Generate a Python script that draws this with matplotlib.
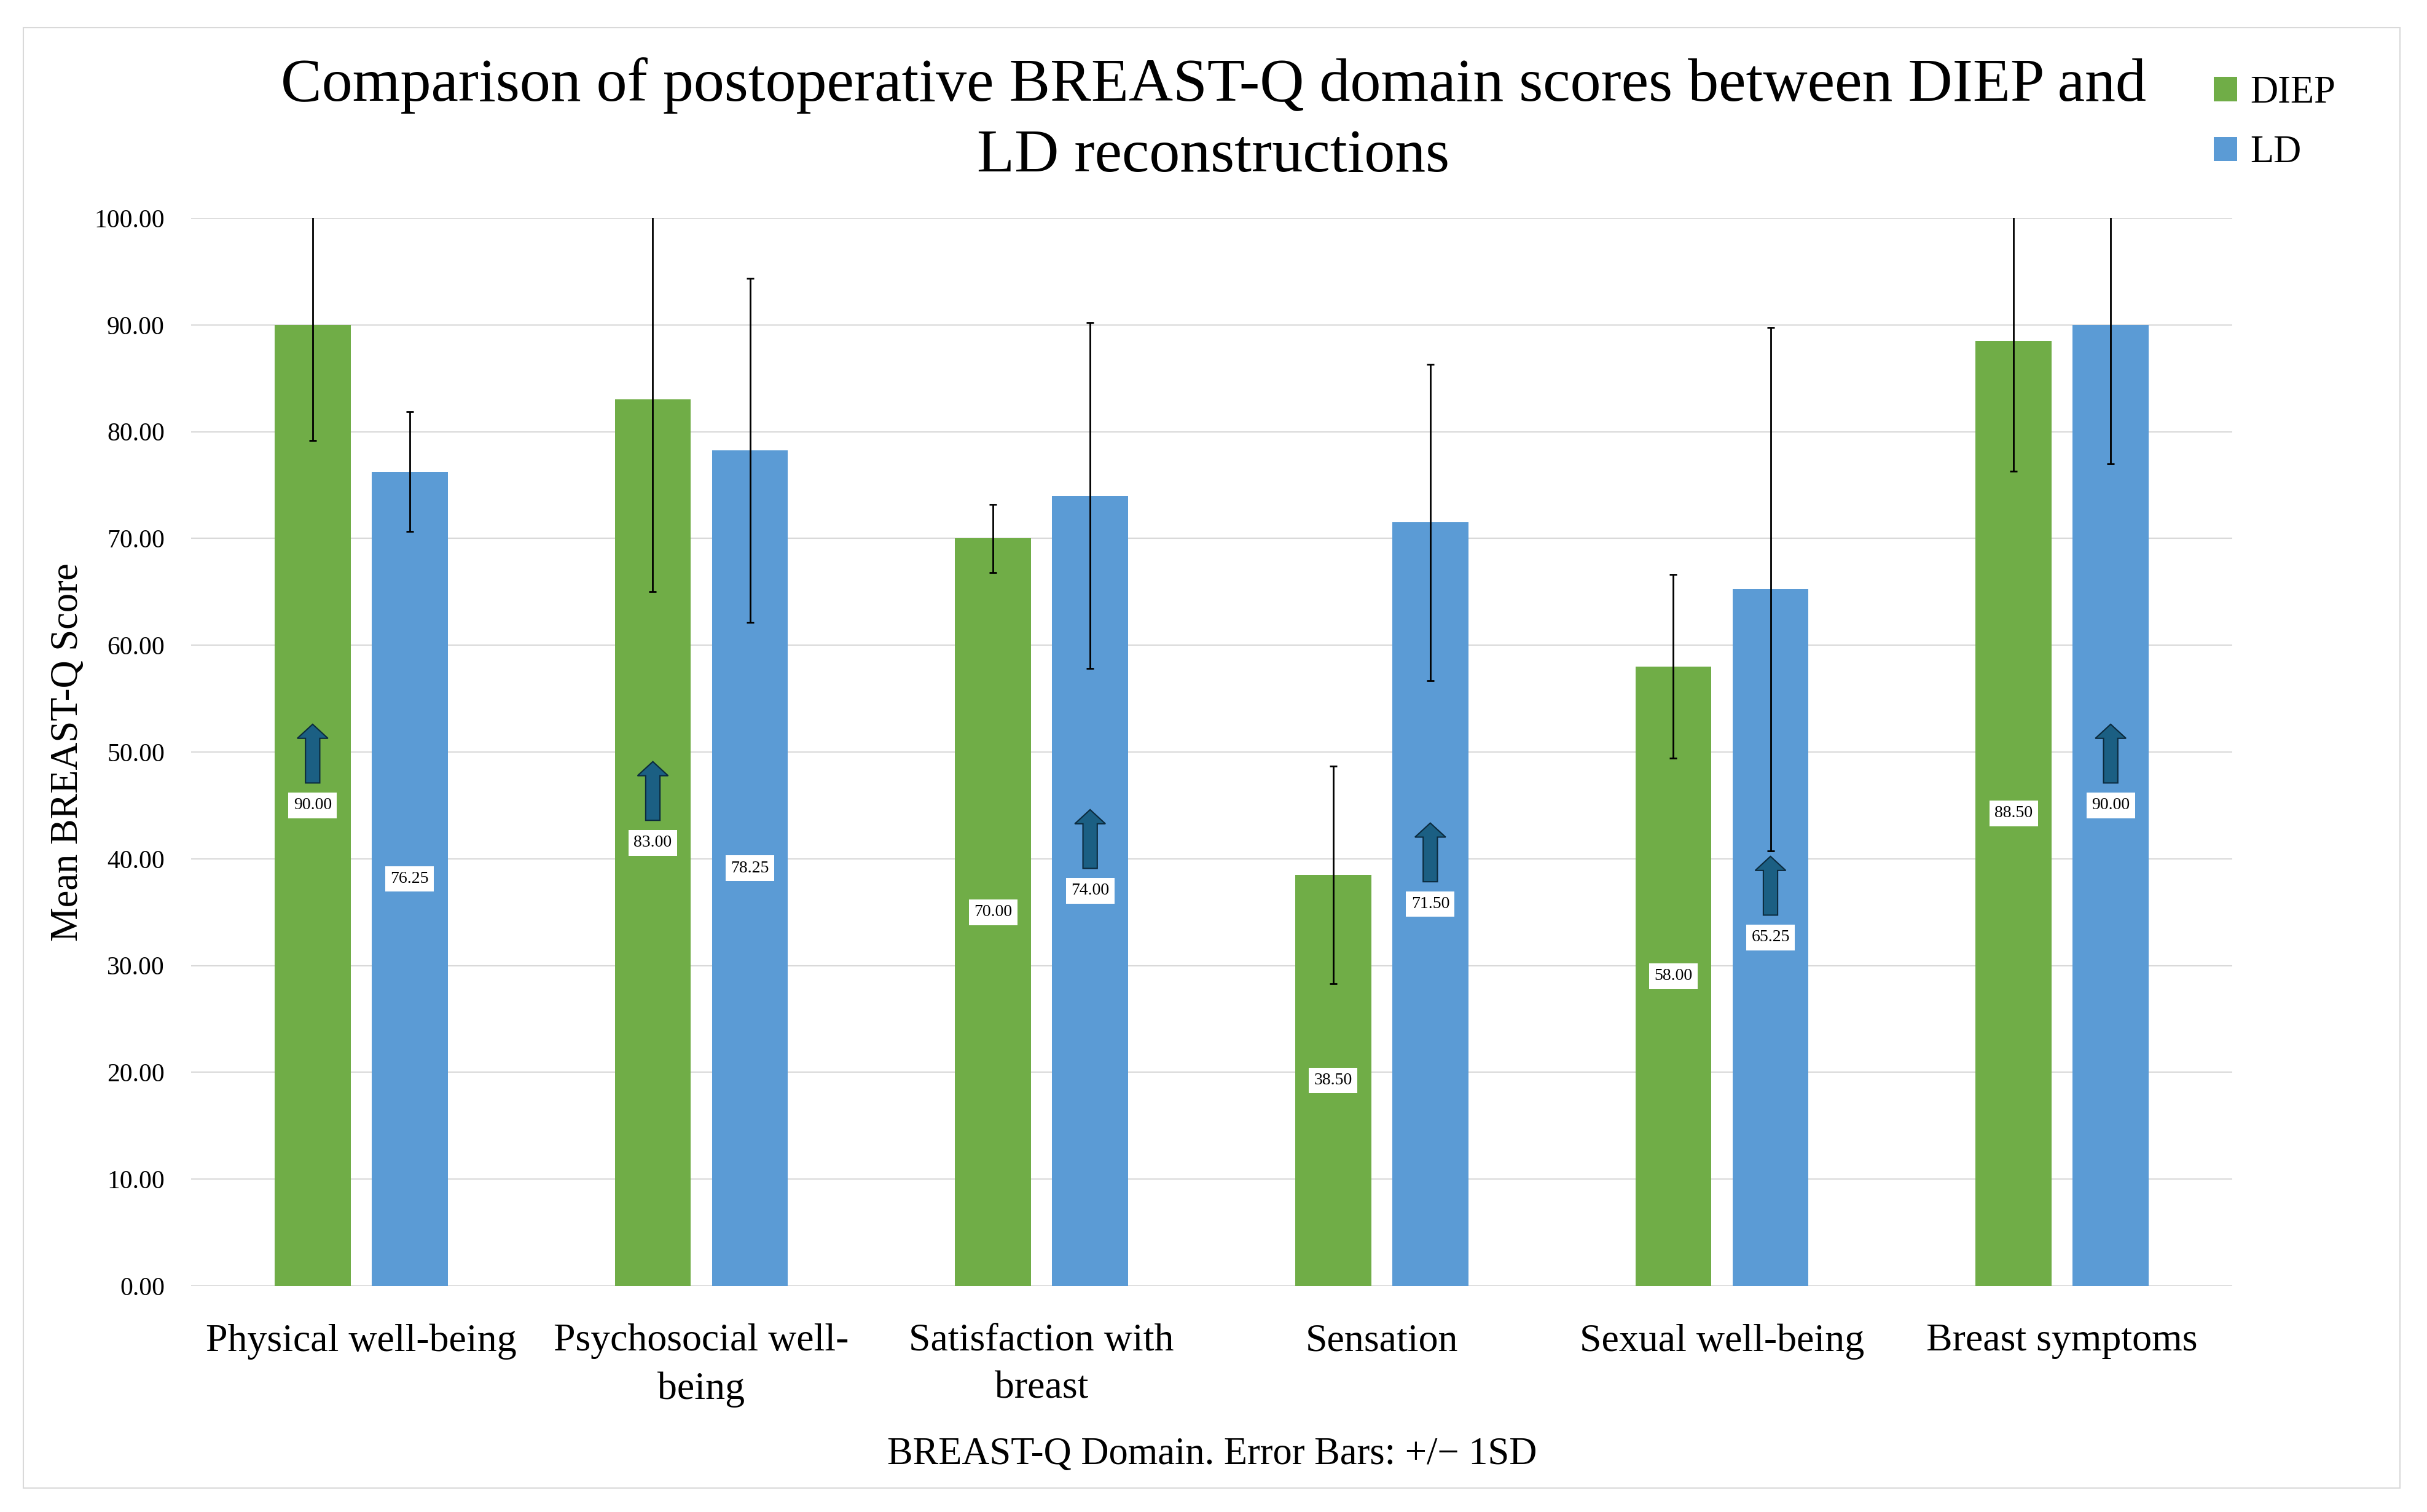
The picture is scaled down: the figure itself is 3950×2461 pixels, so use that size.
import numpy as np
import matplotlib.pyplot as plt
from matplotlib.patches import FancyArrow, Rectangle

plt.rcParams["font.family"] = ["Liberation Serif", "DejaVu Serif"]

# BREAST-Q domain means and SDs
domains = [
    "Physical well-being",
    "Psychosocial well-\nbeing",
    "Satisfaction with\nbreast",
    "Sensation",
    "Sexual well-being",
    "Breast symptoms",
]
diep_mean = [90.00, 83.00, 70.00, 38.50, 58.00, 88.50]
diep_sd = [10.8, 18.0, 3.2, 10.2, 8.6, 12.2]
ld_mean = [76.25, 78.25, 74.00, 71.50, 65.25, 90.00]
ld_sd = [5.6, 16.1, 16.2, 14.8, 24.5, 13.0]
y_ticks = [0, 10, 20, 30, 40, 50, 60, 70, 80, 90, 100]

GREEN = "#70AD47"
BLUE = "#5B9BD5"
ARROW = "#1b5f83"
GRID = "#d9d9d9"

W, H = 3950, 2461
fig = plt.figure(figsize=(W / 100, H / 100), dpi=100)

# light outer frame
fig.patches.append(Rectangle(
    (38 / W, 1 - 2422 / H), (3906 - 38) / W, (2422 - 45) / H,
    transform=fig.transFigure, fill=False, edgecolor=GRID, lw=1.5,
))

ax = fig.add_axes([311 / W, 1 - 2093 / H, (3633 - 311) / W, (2093 - 355) / H])

x = np.arange(len(domains))
bar_w = 0.223
off = 0.1427
x_d = x - off
x_l = x + off

b_d = ax.bar(x_d, diep_mean, width=bar_w, color=GREEN, zorder=2)
b_l = ax.bar(x_l, ld_mean, width=bar_w, color=BLUE, zorder=2)

err_kw = dict(fmt="none", ecolor="black", elinewidth=2, capsize=4.3, capthick=2, zorder=3)
ax.errorbar(x_d, diep_mean, yerr=diep_sd, **err_kw)
ax.errorbar(x_l, ld_mean, yerr=ld_sd, **err_kw)

# value labels at mid-bar, arrow above the higher bar of each pair
for i in range(len(domains)):
    for xi, v in ((x_d[i], diep_mean[i]), (x_l[i], ld_mean[i])):
        ax.text(xi, v / 2, f"{v:.2f}", ha="center", va="center", fontsize=20,
                bbox=dict(boxstyle="square,pad=0.3", fc="white", ec="none"), zorder=6)
    if diep_mean[i] >= ld_mean[i]:
        xa, va = x_d[i], diep_mean[i]
    else:
        xa, va = x_l[i], ld_mean[i]
    ax.add_patch(FancyArrow(
        xa, va / 2 + 2.1, 0, 5.5, width=0.042, head_width=0.09, head_length=1.32,
        length_includes_head=True, fc=ARROW, ec="#0b2a3d", lw=1.5, zorder=5,
    ))

ax.set_xlim(-0.5, len(domains) - 0.5)
ax.set_ylim(0, 100)
ax.set_yticks(y_ticks)
ax.set_yticklabels([f"{t:.2f}" for t in y_ticks])
ax.set_xticks(x)
ax.set_xticklabels(domains, fontsize=46, linespacing=1.45)
ax.tick_params(axis="x", length=0, pad=44)
ax.tick_params(axis="y", length=0, pad=31, labelsize=30)
for s in ax.spines.values():
    s.set_visible(False)
ax.yaxis.grid(True, color=GRID, lw=1.5)
ax.set_axisbelow(True)

fig.text(0.5, 0.9622,
         "Comparison of postoperative BREAST-Q domain scores between DIEP and\nLD reconstructions",
         ha="center", va="top", fontsize=72, linespacing=1.37)
fig.text(0.4995, 1 - 2383 / H, "BREAST-Q Domain. Error Bars: +/\u2212 1SD",
         ha="center", va="baseline", fontsize=45)
fig.text(111 / W, 1 - 1224 / H, "Mean BREAST-Q Score", rotation=90,
         ha="center", va="center", fontsize=45)

fig.legend([b_d, b_l], ["DIEP", "LD"], loc="upper left",
           bbox_to_anchor=(3603 / W, 1 - 123 / H), frameon=False, fontsize=45,
           handlelength=0.6, handleheight=0.6, handletextpad=0.35,
           labelspacing=0.63, borderpad=0, borderaxespad=0)

plt.savefig("out.png", dpi=100)
